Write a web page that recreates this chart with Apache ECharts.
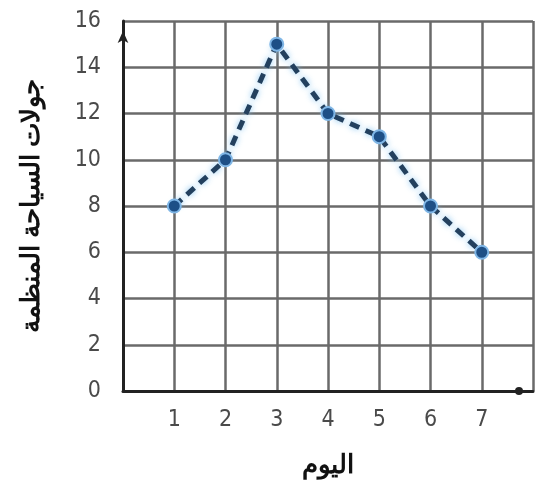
<!DOCTYPE html>
<html><head><meta charset="utf-8">
<script src="https://cdn.jsdelivr.net/npm/echarts@6/dist/echarts.min.js"></script>
<style>html,body{margin:0;padding:0;background:#fff}#c{width:546px;height:485px}</style>
</head><body><div id="c"></div>
<script>
const days = [1, 2, 3, 4, 5, 6, 7];
const tours = [8, 10, 15, 12, 11, 8, 6];
const yTicks = [0, 2, 4, 6, 8, 10, 12, 14, 16];
const xTitle = 'اليوم';
const yTitle = 'جولات السياحة المنظمة';

const chart = echarts.init(document.getElementById('c'));
chart.setOption({
  animation: false,
  grid: { left: 123, right: 13, top: 21, bottom: 94 },
  xAxis: {
    type: 'value', min: 0, max: 8, interval: 1,
    name: xTitle, nameLocation: 'middle', nameGap: 62,
    nameTextStyle: { fontSize: 26, fontWeight: 'bold', color: '#111', fontFamily: 'Noto Sans' },
    axisLine: { show: true, lineStyle: { color: '#222', width: 3 }, symbol: ['none', 'circle'], symbolSize: [8, 8], symbolOffset: [0, -14] },
    axisTick: { show: false },
    axisLabel: { fontSize: 23, color: '#4a4a4a', margin: 18, fontFamily: 'Liberation Sans Narrow, DejaVu Sans Condensed, sans-serif',
      formatter: v => days.includes(v) ? String(v) : '' },
    splitLine: { show: true, lineStyle: { color: '#6a6a6a', width: 2.5 } }
  },
  yAxis: {
    type: 'value', min: 0, max: 16, interval: 2,
    name: yTitle, nameLocation: 'middle', nameGap: 78, nameRotate: 90,
    nameTextStyle: { fontSize: 26, fontWeight: 'bold', color: '#111', fontFamily: 'Noto Sans' },
    axisLine: { show: true, lineStyle: { color: '#222', width: 3 }, symbol: ['none', 'arrow'], symbolSize: [8, 12], symbolOffset: [0, -10] },
    axisTick: { show: false },
    axisLabel: { fontSize: 23, color: '#4a4a4a', margin: 22, fontFamily: 'Liberation Sans Narrow, DejaVu Sans Condensed, sans-serif',
      formatter: v => yTicks.includes(v) ? String(v) : '' },
    splitLine: { show: true, lineStyle: { color: '#6a6a6a', width: 2.5 } }
  },
  series: [{
    type: 'line',
    data: days.map((d, i) => [d, tours[i]]),
    symbol: 'circle', symbolSize: 13,
    itemStyle: { color: '#1d4f86', borderColor: '#7fb6e6', borderWidth: 2 },
    lineStyle: { color: '#23405e', width: 5, type: [10, 7], shadowColor: 'rgba(120,190,240,0.9)', shadowBlur: 6 },
    z: 5
  }]
});
</script>
</body></html>
